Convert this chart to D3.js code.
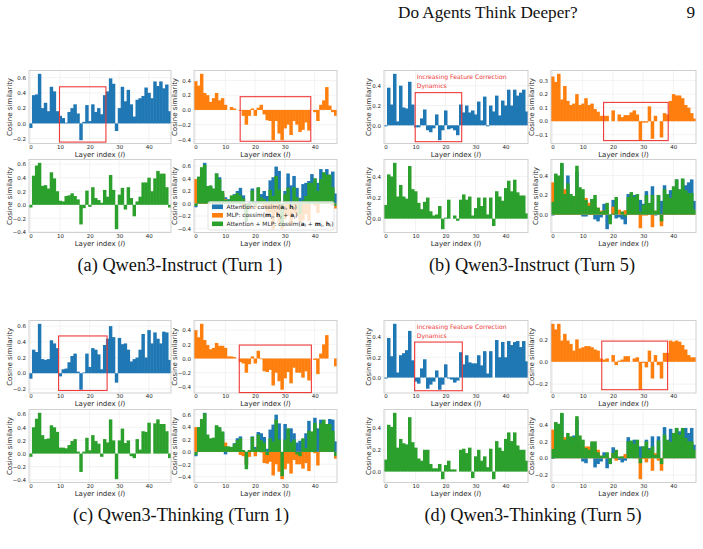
<!DOCTYPE html>
<html>
<head>
<meta charset="utf-8">
<script src="https://cdn.jsdelivr.net/npm/d3@7"></script>
<style>
body { margin: 0; background: #fff; }
</style>
</head>
<body>
<svg id="fig" width="703" height="549"></svg>
<script>
// layer indices and tick labels
const layers = d3.range(48);
const xTicks = [0, 10, 20, 30, 40];

// (a) Qwen3-Instruct, turn 1
const instructT1Attn = [-0.06, 0.37, 0.38, 0.65, 0.2, 0.27, 0.16, 0.48, 0.42, 0.16,
  0.1, 0.07, 0.01, 0.15, 0.2, 0.25, 0.13, -0.22, 0.02, 0.24,
  0.03, 0.25, 0.15, 0.2, 0.12, 0.37, 0.42, 0.59, 0.52, -0.1,
  0.2, 0.48, 0.29, 0.44, 0.25, 0.09, 0.31, 0.33, 0.36, 0.47,
  0.4, 0.33, 0.55, 0.49, 0.55, 0.46, 0.51, 0.16];
const instructT1Mlp = [0.39, 0.33, 0.49, 0.23, 0.2, 0.11, 0.16, 0.23, 0.13, 0.16,
  0.07, 0.0, 0.04, 0.02, 0.0, -0.01, -0.08, -0.2, -0.08, 0.02,
  -0.08, 0.03, 0.07, -0.06, -0.14, -0.15, -0.41, -0.15, -0.32, -0.41,
  -0.25, -0.2, -0.34, -0.15, -0.2, -0.3, -0.27, -0.17, -0.28, 0.0,
  -0.03, -0.15, 0.07, 0.13, 0.31, 0.06, -0.03, -0.08];
const instructT1Both = [-0.04, 0.43, 0.58, 0.62, 0.28, 0.29, 0.24, 0.48, 0.39, 0.2,
  0.06, 0.05, 0.13, 0.14, 0.17, 0.13, 0.08, -0.29, -0.05, 0.21,
  -0.03, 0.26, 0.1, 0.07, 0.03, 0.22, 0.12, 0.44, 0.22, -0.36,
  0.15, 0.25, -0.07, 0.26, 0.1, -0.17, 0.05, 0.12, 0.33, 0.33,
  0.4, 0.2, 0.39, 0.5, 0.46, 0.46, 0.26, -0.04];

// (b) Qwen3-Instruct, turn 5
const instructT5Attn = [-0.01, 0.38, 0.21, 0.52, 0.04, 0.4, 0.18, 0.17, 0.44, 0.21,
  -0.02, -0.02, 0.07, 0.16, -0.05, -0.07, -0.03, 0.11, -0.15, -0.05,
  0.15, -0.04, -0.03, -0.05, -0.1, 0.21, 0.13, 0.2, 0.13, 0.15,
  0.11, 0.24, 0.05, 0.29, -0.01, 0.2, 0.14, 0.3, 0.1, 0.25,
  0.2, 0.36, 0.2, 0.36, 0.3, 0.33, 0.36, 0.14];
const instructT5Mlp = [0.33, 0.29, 0.35, 0.16, 0.26, 0.15, 0.12, 0.13, 0.2, 0.12,
  0.13, 0.17, 0.12, 0.13, 0.09, 0.07, 0.04, 0.04, 0.04, 0.0,
  0.08, 0.0, 0.05, 0.03, 0.045, 0.045, 0.065, 0.08, 0.05, -0.14,
  -0.01, -0.01, 0.11, -0.13, 0.04, 0.0, -0.12, 0.06, 0.05, 0.15,
  0.2, 0.19, 0.19, 0.17, 0.12, 0.1, 0.06, 0.02];
const instructT5Both = [0.13, 0.42, 0.4, 0.53, 0.21, 0.32, 0.21, 0.19, 0.5, 0.28,
  0.26, 0.15, 0.09, 0.16, 0.2, 0.07, 0.03, 0.04, 0.12, -0.1,
  0.01, 0.18, 0.0, 0.03, -0.02, 0.18, 0.23, 0.18, 0.21, 0.03,
  0.1, 0.2, 0.12, 0.2, 0.04, 0.2, -0.07, 0.26, 0.21, 0.17,
  0.29, 0.36, 0.26, 0.37, 0.25, 0.22, 0.22, 0.05];

// (c) Qwen3-Thinking, turn 1
const thinkingT1Attn = [-0.07, 0.3, 0.27, 0.63, 0.18, 0.17, 0.18, 0.42, 0.38, 0.32,
  -0.04, 0.05, 0.06, 0.14, 0.22, 0.25, 0.02, -0.21, 0.01, 0.25,
  0.08, 0.32, 0.3, 0.24, 0.05, 0.36, 0.44, 0.6, 0.46, -0.12,
  0.45, 0.37, 0.38, 0.3, 0.15, 0.18, 0.2, 0.3, 0.5, 0.2,
  0.55, 0.38, 0.52, 0.44, 0.38, 0.53, 0.52, 0.17];
const thinkingT1Mlp = [0.4, 0.3, 0.49, 0.26, 0.19, 0.13, 0.15, 0.22, 0.18, 0.18,
  0.15, 0.03, 0.03, 0.02, 0.0, -0.05, -0.07, -0.2, -0.08, 0.03,
  -0.07, 0.11, -0.01, -0.18, -0.19, -0.16, -0.38, -0.2, -0.32, -0.44,
  -0.28, -0.19, -0.35, -0.13, -0.2, -0.2, -0.27, -0.18, -0.31, 0.0,
  -0.02, -0.22, 0.07, 0.2, 0.33, 0.0, 0.0, -0.11];
const thinkingT1Both = [-0.05, 0.4, 0.53, 0.62, 0.28, 0.22, 0.23, 0.43, 0.4, 0.33,
  0.09, 0.09, 0.08, 0.13, 0.19, 0.22, 0.03, -0.28, 0.03, 0.24,
  0.05, 0.28, 0.19, 0.15, -0.05, 0.22, 0.17, 0.52, 0.2, -0.39,
  0.2, 0.38, 0.16, 0.2, -0.04, -0.07, 0.22, 0.06, 0.34, 0.33,
  0.47, 0.0, 0.46, 0.52, 0.45, 0.45, 0.34, -0.07];

// (d) Qwen3-Thinking, turn 5
const thinkingT5Attn = [-0.01, 0.39, 0.21, 0.53, 0.05, 0.22, 0.24, 0.27, 0.46, 0.17,
  -0.04, -0.06, 0.09, 0.18, -0.11, -0.07, -0.04, 0.07, -0.12, -0.07,
  0.13, -0.01, -0.02, -0.05, -0.03, 0.25, 0.13, 0.22, 0.15, 0.14,
  0.14, 0.22, 0.12, 0.26, 0.04, 0.26, 0.0, 0.37, 0.2, 0.35,
  0.2, 0.36, 0.32, 0.35, 0.36, 0.3, 0.36, 0.16];
const thinkingT5Mlp = [0.34, 0.29, 0.34, 0.19, 0.25, 0.19, 0.16, 0.1, 0.2, 0.12,
  0.13, 0.14, 0.14, 0.13, 0.11, 0.1, 0.03, 0.02, 0.03, 0.0,
  0.06, -0.03, 0.01, 0.02, 0.05, 0.05, 0.0, 0.03, 0.04, -0.25,
  -0.01, -0.05, 0.1, -0.15, 0.06, -0.03, -0.15, 0.08, 0.08, 0.19,
  0.18, 0.19, 0.18, 0.15, 0.11, 0.06, 0.04, 0.04];
const thinkingT5Both = [0.11, 0.43, 0.41, 0.54, 0.22, 0.3, 0.26, 0.25, 0.5, 0.27,
  0.22, 0.12, 0.1, 0.2, 0.2, 0.07, 0.03, 0.03, 0.07, -0.07,
  0.06, 0.1, 0.02, 0.02, 0.0, 0.2, 0.21, 0.17, 0.22, -0.06,
  0.14, 0.2, 0.1, 0.14, 0.04, 0.21, -0.07, 0.28, 0.22, 0.19,
  0.3, 0.36, 0.28, 0.36, 0.24, 0.2, 0.2, 0.1];

// y tick labels
const ticksWide = [-0.2, 0.0, 0.2, 0.4, 0.6];
const ticksMlpT1 = [-0.4, -0.2, 0.0, 0.2, 0.4];
const ticksBothT1 = [-0.4, -0.2, 0.0, 0.2, 0.4, 0.6];
const ticksT5 = [0.0, 0.2, 0.4];
const ticksMlpB = [-0.1, 0.0, 0.1, 0.2, 0.3];
const ticksMlpD = [-0.2, 0.0, 0.2];
const ticksOverlayD = [-0.2, 0.0, 0.2, 0.4];

// highlighted regions [layer from, layer to, value from, value to]
const boxA1 = [9.8, 25.5, -0.245, 0.48];
const boxA2 = [15, 38.7, -0.425, 0.18];
const boxB1 = [9.9, 25.4, -0.165, 0.33];
const boxB2 = [16.9, 38.3, -0.143, 0.139];
const boxC1 = [9.5, 25.9, -0.22, 0.475];
const boxC2 = [14.7, 38.9, -0.48, 0.19];
const boxD1 = [9.7, 25.6, -0.13, 0.35];
const boxD2 = [16.3, 38.1, -0.25, 0.185];

const noteLines = ["Increasing Feature Correction", "Dynamics"];
const captions = ["(a) Qwen3-Instruct (Turn 1)", "(b) Qwen3-Instruct (Turn 5)",
  "(c) Qwen3-Thinking (Turn 1)", "(d) Qwen3-Thinking (Turn 5)"];

let blue = "#1f77b4";
let orange = "#ff7f0e";
let green = "#2ca02c";
let gridColor = "#ebebeb";
let frameColor = "#cccccc";
let textColor = "#262626";
let sans = "'DejaVu Sans', sans-serif";
let serif = "'Liberation Serif', 'Times New Roman', serif";

let colX = [[29, 171], [194, 337], [384, 528], [551, 696]];
let rowY = [[70.5, 143.5], [159.5, 232.5], [320.5, 393], [409.5, 482.5]];

let svg = d3.select("#fig");

function drawPanel(p)
{
    let xa = colX[p.col][0], xb = colX[p.col][1];
    let ya = rowY[p.row][0], yb = rowY[p.row][1];
    let all = p.series.flatMap(s => s.values);
    let lo = d3.min(all), hi = d3.max(all), m = (hi - lo) * 0.05;
    let x = d3.scaleLinear().domain([-0.5, 47.5]).range([xa, xb]);
    let y = d3.scaleLinear().domain([lo - m, hi + m]).range([yb, ya]);
    let g = svg.append("g");

    // grid
    g.append("g").selectAll("line").data(xTicks).join("line")
     .attr("x1", d => x(d)).attr("x2", d => x(d))
     .attr("y1", ya).attr("y2", yb)
     .attr("stroke", gridColor).attr("stroke-width", 0.6);
    g.append("g").selectAll("line").data(p.ticks).join("line")
     .attr("x1", xa).attr("x2", xb)
     .attr("y1", d => y(d)).attr("y2", d => y(d))
     .attr("stroke", gridColor).attr("stroke-width", 0.6);

    // bars (slight overlap so neighbouring bars leave no seam)
    let bw = x(1) - x(0);
    p.series.forEach(s => {
        g.append("g")
         .selectAll("rect").data(s.values).join("rect")
         .attr("x", (d, i) => x(layers[i] - 0.5))
         .attr("width", (d, i) => i == layers.length - 1 ? bw : bw + 0.5)
         .attr("y", d => Math.min(y(d), y(0)))
         .attr("height", d => Math.abs(y(d) - y(0)))
         .attr("fill", s.color);
    });

    // frame
    g.append("rect")
     .attr("x", xa).attr("y", ya)
     .attr("width", xb - xa).attr("height", yb - ya)
     .attr("fill", "none").attr("stroke", frameColor).attr("stroke-width", 0.9);

    // axes
    let ay = g.append("g").attr("transform", `translate(${xa},0)`)
     .call(d3.axisLeft(y).tickValues(p.ticks).tickSize(0).tickPadding(3).tickFormat(d3.format(".1f")));
    let ax = g.append("g").attr("transform", `translate(0,${yb})`)
     .call(d3.axisBottom(x).tickValues(xTicks).tickSize(0).tickPadding(1.5));
    [ay, ax].forEach(a => {
        a.select(".domain").remove();
        a.selectAll("text").attr("font-size", 5.5).attr("font-family", sans).attr("fill", textColor);
    });

    let tw = ay.node().getBBox().width;
    g.append("text")
     .attr("transform", `translate(${xa - tw - 3.3},${(ya + yb) / 2}) rotate(-90)`)
     .attr("text-anchor", "middle").attr("dy", "0.35em")
     .attr("font-size", 7).attr("font-family", sans).attr("fill", textColor)
     .text("Cosine similarity");

    let xl = g.append("text")
     .attr("x", (xa + xb) / 2).attr("y", yb + 13)
     .attr("text-anchor", "middle")
     .attr("font-size", 7).attr("font-family", sans).attr("fill", textColor);
    xl.append("tspan").text("Layer index (");
    xl.append("tspan").attr("font-style", "italic").text("l");
    xl.append("tspan").text(")");

    if (p.box)
    {
        g.append("rect")
         .attr("x", x(p.box[0])).attr("y", y(p.box[3]))
         .attr("width", x(p.box[1]) - x(p.box[0]))
         .attr("height", y(p.box[2]) - y(p.box[3]))
         .attr("fill", "none").attr("stroke", "#f03a3a").attr("stroke-width", 1.1);
    }
    if (p.note)
    {
        g.append("g").selectAll("text").data(noteLines).join("text")
         .attr("x", x(10.4))
         .attr("y", (d, i) => ya + 8.5 + i * 8.5)
         .attr("font-size", 6.1).attr("font-family", sans).attr("fill", "#f03a3a")
         .text(d => d);
    }
    if (p.legend) drawLegend();
}

function addMath(t, parts)
{
    parts.forEach(q => {
        let s = t.append("tspan").text(q[0]);
        if (q[1] == "b") s.attr("font-weight", "bold");
        if (q[1] == "sub") s.attr("font-size", 4.3).attr("font-style", "italic").attr("dy", 1.3);
        if (q[1] == "up") s.attr("dy", -1.3);
    });
}

function drawLegend()
{
    let lg = svg.append("g");
    lg.append("rect")
     .attr("x", 208).attr("y", 201.5).attr("width", 126).attr("height", 28.5)
     .attr("rx", 2).attr("fill", "#fff").attr("fill-opacity", 0.8)
     .attr("stroke", "#d0d0d0").attr("stroke-width", 0.6);
    let rows = [
        [blue, [["Attention: cossim(", ""], ["a", "b"], ["l", "sub"], [", ", "up"], ["h", "b"], ["l", "sub"], [")", "up"]]],
        [orange, [["MLP: cossim(", ""], ["m", "b"], ["l", "sub"], [", ", "up"], ["h", "b"], ["l", "sub"], [" + ", "up"], ["a", "b"], ["l", "sub"], [")", "up"]]],
        [green, [["Attention + MLP: cossim(", ""], ["a", "b"], ["l", "sub"], [" + ", "up"], ["m", "b"], ["l", "sub"], [", ", "up"], ["h", "b"], ["l", "sub"], [")", "up"]]]
    ];
    rows.forEach((r, i) => {
        let cy = 206.8 + i * 8.5;
        lg.append("rect").attr("x", 212).attr("y", cy - 2.3).attr("width", 11).attr("height", 4.6).attr("fill", r[0]);
        let t = lg.append("text").attr("x", 226.5).attr("y", cy + 2.1)
         .attr("font-size", 5.9).attr("font-family", sans).attr("fill", textColor);
        addMath(t, r[1]);
    });
}

let panels = [
    {col: 0, row: 0, series: [{values: instructT1Attn, color: blue}], ticks: ticksWide, box: boxA1},
    {col: 1, row: 0, series: [{values: instructT1Mlp, color: orange}], ticks: ticksMlpT1, box: boxA2},
    {col: 0, row: 1, series: [{values: instructT1Both, color: green}], ticks: ticksBothT1},
    {col: 1, row: 1, series: [{values: instructT1Attn, color: blue}, {values: instructT1Mlp, color: orange}, {values: instructT1Both, color: green}], ticks: ticksBothT1, legend: true},
    {col: 2, row: 0, series: [{values: instructT5Attn, color: blue}], ticks: ticksT5, box: boxB1, note: true},
    {col: 3, row: 0, series: [{values: instructT5Mlp, color: orange}], ticks: ticksMlpB, box: boxB2},
    {col: 2, row: 1, series: [{values: instructT5Both, color: green}], ticks: ticksT5},
    {col: 3, row: 1, series: [{values: instructT5Attn, color: blue}, {values: instructT5Mlp, color: orange}, {values: instructT5Both, color: green}], ticks: ticksT5},
    {col: 0, row: 2, series: [{values: thinkingT1Attn, color: blue}], ticks: ticksWide, box: boxC1},
    {col: 1, row: 2, series: [{values: thinkingT1Mlp, color: orange}], ticks: ticksMlpT1, box: boxC2},
    {col: 0, row: 3, series: [{values: thinkingT1Both, color: green}], ticks: ticksBothT1},
    {col: 1, row: 3, series: [{values: thinkingT1Attn, color: blue}, {values: thinkingT1Mlp, color: orange}, {values: thinkingT1Both, color: green}], ticks: ticksBothT1},
    {col: 2, row: 2, series: [{values: thinkingT5Attn, color: blue}], ticks: ticksT5, box: boxD1, note: true},
    {col: 3, row: 2, series: [{values: thinkingT5Mlp, color: orange}], ticks: ticksMlpD, box: boxD2},
    {col: 2, row: 3, series: [{values: thinkingT5Both, color: green}], ticks: ticksT5},
    {col: 3, row: 3, series: [{values: thinkingT5Attn, color: blue}, {values: thinkingT5Mlp, color: orange}, {values: thinkingT5Both, color: green}], ticks: ticksOverlayD}
];
panels.forEach(drawPanel);

// captions and page header
let capPos = [[180, 271], [532, 271], [181, 521], [533, 521]];
captions.forEach((c, i) => {
    svg.append("text").attr("x", capPos[i][0]).attr("y", capPos[i][1])
     .attr("text-anchor", "middle").attr("font-size", 18.3).attr("font-family", serif)
     .attr("fill", "#111").text(c);
});
svg.append("text").attr("x", 398).attr("y", 18)
 .attr("font-size", 17.2).attr("font-family", serif).attr("fill", "#111")
 .text("Do Agents Think Deeper?");
svg.append("text").attr("x", 695).attr("y", 18).attr("text-anchor", "end")
 .attr("font-size", 17.2).attr("font-family", serif).attr("fill", "#111")
 .text("9");
</script>
</body>
</html>
